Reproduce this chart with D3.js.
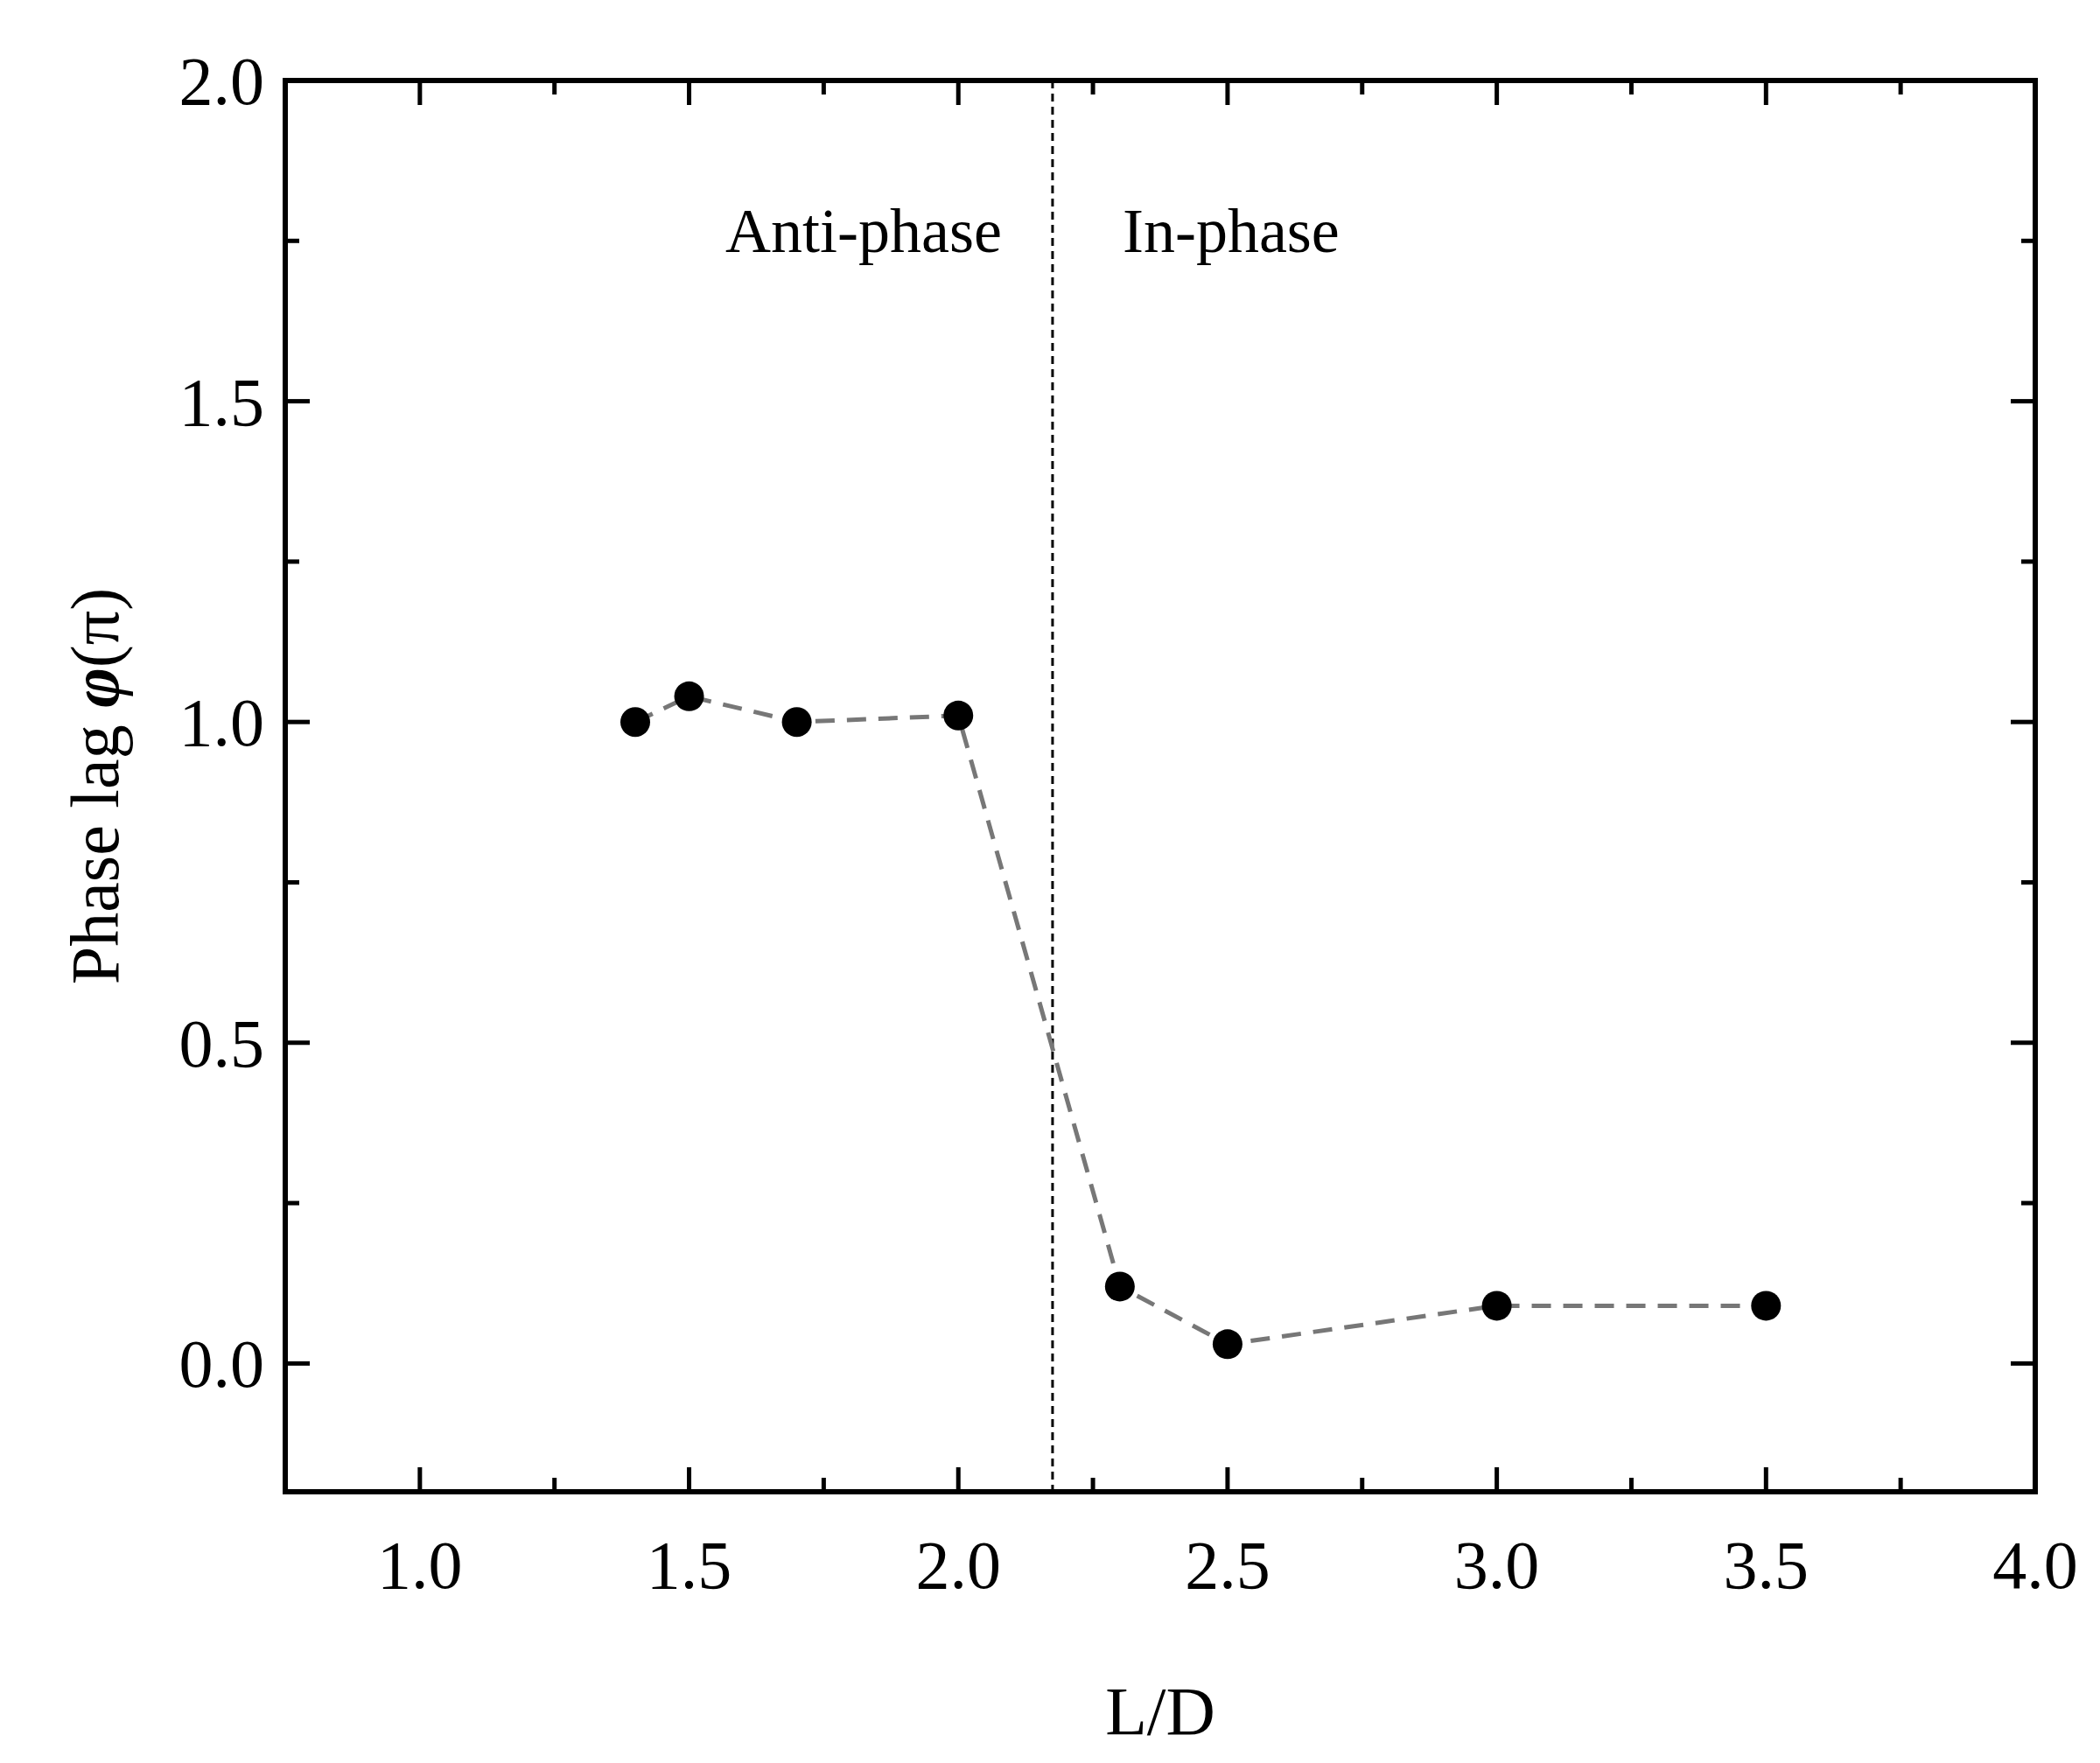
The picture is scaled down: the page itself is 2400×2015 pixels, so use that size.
<!DOCTYPE html>
<html><head><meta charset="utf-8">
<script src="https://cdn.jsdelivr.net/npm/d3@7"></script>
<style>body{margin:0;background:#fff}</style></head>
<body><svg id="c" width="2400" height="2015"></svg>
<script>
const xs=[1.4,1.5,1.7,2.0,2.3,2.5,3.0,3.5];
const ys=[1.0,1.04,1.0,1.01,0.12,0.03,0.09,0.09];
const xTicks=[1.0,1.5,2.0,2.5,3.0,3.5,4.0];
const yTicks=[0.0,0.5,1.0,1.5,2.0];
const boundary=2.175;
const L=326,R=2326,T=92,B=1705;
const svg=d3.select("#c");
const x=d3.scaleLinear().domain([0.75,4.0]).range([L,R]);
const y=d3.scaleLinear().domain([-0.2,2.0]).range([B,T]);
const font="Liberation Serif, Times New Roman, serif";
const xMinor=d3.range(0.75,4.001,0.25), yMinor=d3.range(-0.25,2.001,0.25).filter(v=>v>=-0.2);
function ticks(g,axis,major,minor){
  const isMaj=v=>major.some(m=>Math.abs(m-v)<1e-6);
  minor.forEach(v=>{
    const len=isMaj(v)?28:16;
    if(axis==='x'){
      g.append("line").attr("x1",x(v)).attr("x2",x(v)).attr("y1",B).attr("y2",B-len);
      g.append("line").attr("x1",x(v)).attr("x2",x(v)).attr("y1",T).attr("y2",T+len);
    }else{
      g.append("line").attr("y1",y(v)).attr("y2",y(v)).attr("x1",L).attr("x2",L+len);
      g.append("line").attr("y1",y(v)).attr("y2",y(v)).attr("x1",R).attr("x2",R-len);
    }
  });
}
const tg=svg.append("g").attr("stroke","#000").attr("stroke-width",5);
ticks(tg,'x',xTicks,xMinor);ticks(tg,'y',yTicks,yMinor);
svg.append("rect").attr("x",L).attr("y",T).attr("width",R-L).attr("height",B-T).attr("fill","none").attr("stroke","#000").attr("stroke-width",6);
svg.append("g").selectAll("text").data(xTicks).join("text").attr("x",d=>x(d)).attr("y",B+110)
 .attr("text-anchor","middle").attr("font-family",font).attr("font-size",78).text(d=>d.toFixed(1));
svg.append("g").selectAll("text").data(yTicks).join("text").attr("x",L-24).attr("y",d=>y(d)+27)
 .attr("text-anchor","end").attr("font-family",font).attr("font-size",78).text(d=>d.toFixed(1));
svg.append("text").attr("x",(L+R)/2).attr("y",1982).attr("text-anchor","middle").attr("font-family",font).attr("font-size",78).text("L/D");
const yl=svg.append("text").attr("transform",`translate(135,${(T+B)/2}) rotate(-90)`).attr("text-anchor","middle").attr("font-family",font).attr("font-size",78);
yl.append("tspan").text("Phase lag ");
yl.append("tspan").attr("font-weight","bold").attr("font-style","italic").text("φ");
yl.append("tspan").text("(π)");
svg.append("line").attr("x1",x(boundary)).attr("x2",x(boundary)).attr("y1",T).attr("y2",B).attr("stroke","#000").attr("stroke-width",3).attr("stroke-dasharray","9,6");
svg.append("text").attr("x",x(boundary)-58).attr("y",288).attr("text-anchor","end").attr("font-family",font).attr("font-size",72).text("Anti-phase");
svg.append("text").attr("x",x(boundary)+80).attr("y",288).attr("font-family",font).attr("font-size",72).text("In-phase");
const pts=xs.map((v,i)=>[v,ys[i]]);
svg.append("path").attr("d",d3.line().x(d=>x(d[0])).y(d=>y(d[1]))(pts)).attr("fill","none").attr("stroke","#777").attr("stroke-width",5).attr("stroke-dasharray","22,14");
svg.append("g").selectAll("circle").data(pts).join("circle").attr("cx",d=>x(d[0])).attr("cy",d=>y(d[1])).attr("r",17).attr("fill","#000");
</script></body></html>
